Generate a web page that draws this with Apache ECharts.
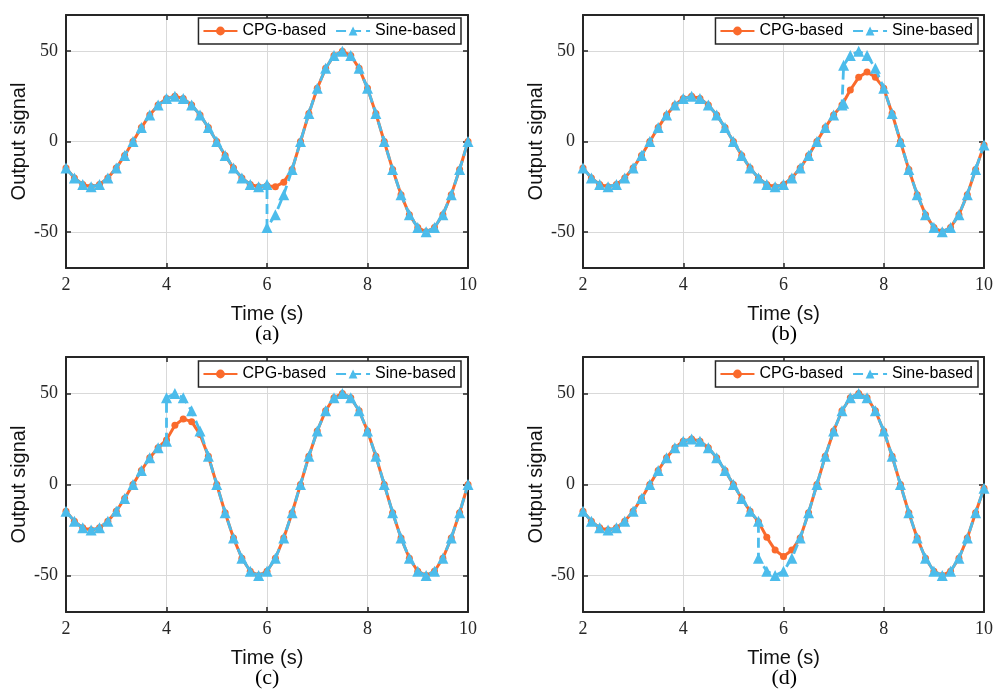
<!DOCTYPE html>
<html><head><meta charset="utf-8">
<script src="https://cdn.jsdelivr.net/npm/echarts@6/dist/echarts.min.js"></script>
<style>html,body{margin:0;padding:0;background:#fff}#c{width:1004px;height:700px}</style>
</head><body><div id="c"></div>
<script>
// ---------- data ----------
const time = [2,2.167,2.333,2.5,2.667,2.833,3,3.167,3.333,3.5,3.667,3.833,4,4.167,4.333,4.5,4.667,4.833,5,5.167,5.333,5.5,5.667,5.833,6,6.167,6.333,6.5,6.667,6.833,7,7.167,7.333,7.5,7.667,7.833,8,8.167,8.333,8.5,8.667,8.833,9,9.167,9.333,9.5,9.667,9.833,10];
const xTicks = [2,4,6,8,10];
const yTicks = [-50,0,50];
const seriesNames = ['CPG-based','Sine-based'];
const panelLabels = ['(a)','(b)','(c)','(d)'];

const sineA = [-14.7,-20.2,-23.8,-25,-23.8,-20.2,-14.7,-7.7,0,7.7,14.7,20.2,23.8,25,23.8,20.2,14.7,7.7,0,-7.7,-14.7,-20.2,-23.8,-25,
  -47.6,-40.5,-29.4,-15.5,0,15.5,29.4,40.5,47.6,50,47.6,40.5,29.4,15.5,0,-15.5,-29.4,-40.5,-47.6,-50,-47.6,-40.5,-29.4,-15.5,0];
const cpgA = [-14.7,-20.2,-23.8,-25,-23.8,-20.2,-14.7,-7.7,0,7.7,14.7,20.2,23.8,25,23.8,20.2,14.7,7.7,0,-7.7,-14.7,-20.2,-23.8,-25,
  -24.5,-25,-22.5,-15.5,0,15.5,29.4,40.5,47.6,50,47.6,40.5,29.4,15.5,0,-15.5,-29.4,-40.5,-47.6,-50,-47.6,-40.5,-29.4,-15.5,0];

const sineB = [-14.7,-20.2,-23.8,-25,-23.8,-20.2,-14.7,-7.7,0,7.7,14.7,20.2,23.8,25,23.8,20.2,14.7,7.7,0,-7.7,-14.7,-20.2,-23.8,-25,
  -23.8,-20.2,-14.7,-7.7,0,7.7,14.7,20.2,
  47.6,50,47.6,40.5,29.4,15.5,0,-15.5,-29.4,-40.5,-47.6,-50,-47.6,-40.5,-29.4,-15.5,-2];
const cpgB = [-14.7,-20.2,-23.8,-25,-23.8,-20.2,-14.7,-7.7,0,7.7,14.7,20.2,23.8,25,23.8,20.2,14.7,7.7,0,-7.7,-14.7,-20.2,-23.8,-25,
  -23.8,-20.2,-14.7,-7.7,0,7.7,14.7,20.2,
  28.5,35.5,38.5,35.5,29.5,15.5,0,-15.5,-29.4,-40.5,-47.6,-50,-47.6,-40.5,-29.4,-15.5,-2];

const sineC = [-14.7,-20.2,-23.8,-25,-23.8,-20.2,-14.7,-7.7,0,7.7,14.7,20.2,
  47.6,50,47.6,40.5,29.4,15.5,0,-15.5,-29.4,-40.5,-47.6,-50,-47.6,-40.5,-29.4,-15.5,0,15.5,29.4,40.5,47.6,50,47.6,40.5,29.4,15.5,0,-15.5,-29.4,-40.5,-47.6,-50,-47.6,-40.5,-29.4,-15.5,0];
const cpgC = [-14.7,-20.2,-23.8,-25,-23.8,-20.2,-14.7,-7.7,0,7.7,14.7,20.2,
  24.5,32.5,36,34.5,27.5,15.5,0,-15.5,-29.4,-40.5,-47.6,-50,-47.6,-40.5,-29.4,-15.5,0,15.5,29.4,40.5,47.6,50,47.6,40.5,29.4,15.5,0,-15.5,-29.4,-40.5,-47.6,-50,-47.6,-40.5,-29.4,-15.5,0];

const sineD = [-14.7,-20.2,-23.8,-25,-23.8,-20.2,-14.7,-7.7,0,7.7,14.7,20.2,23.8,25,23.8,20.2,14.7,7.7,0,-7.7,-14.7,
  -40.5,-47.6,-50,-47.6,-40.5,-29.4,-15.5,0,15.5,29.4,40.5,47.6,50,47.6,40.5,29.4,15.5,0,-15.5,-29.4,-40.5,-47.6,-50,-47.6,-40.5,-29.4,-15.5,-2];
const cpgD = [-14.7,-20.2,-23.8,-25,-23.8,-20.2,-14.7,-7.7,0,7.7,14.7,20.2,23.8,25,23.8,20.2,14.7,7.7,0,-7.7,-14.7,
  -20.5,-29,-36,-39.5,-36,-29.4,-15.5,0,15.5,29.4,40.5,47.6,50,47.6,40.5,29.4,15.5,0,-15.5,-29.4,-40.5,-47.6,-50,-47.6,-40.5,-29.4,-15.5,-2];

// amplitude switch of the sine reference (time, value before, value after)
const switchTime = [6, 7.2, 4, 5.5];
const switchFrom = [-23.8, 21.1, 23.8, -20.2];
const switchTo   = [-47.6, 42.2, 47.6, -40.5];

const cpgAll  = [cpgA, cpgB, cpgC, cpgD];
const sineAll = [sineA, sineB, sineC, sineD];

// ---------- build ----------
function pairs(vals){ return time.map((t,i)=>[t, vals[i]]); }
function sineData(vals, ts, from, to){
  const out = []; let ins = false;
  time.forEach((t,i)=>{
    if(!ins && t >= ts){ out.push([ts, from],[ts, to]); ins = true; if (t === ts) return; }
    out.push([t, vals[i]]);
  });
  return out;
}

const ORANGE = '#FA6A2C', BLUE = '#4CBCEB', AX = '#262626';
const grids = [
  {left:66, top:15, width:402, height:253},
  {left:583, top:15, width:401, height:253},
  {left:66, top:357, width:402, height:255},
  {left:583, top:357, width:401, height:255}
];
const legendPos = [{right:543, top:18},{right:26, top:18},{right:543, top:361},{right:26, top:361}];

const axLine = {show:true, onZero:false, lineStyle:{color:AX, width:2}};
const axTick = {show:true, inside:true, length:5, lineStyle:{color:AX, width:1.5}};
const split = {show:true, lineStyle:{color:'#d9d9d9', width:1}};

const xAxis = [], yAxis = [], series = [], legend = [], graphic = [];
grids.forEach((g,i)=>{
  xAxis.push({gridIndex:i, type:'value', min:2, max:10, interval:2, position:'bottom',
    axisLine:axLine, axisTick:axTick, splitLine:split,
    axisLabel:{fontFamily:'Liberation Serif', fontSize:18, color:AX, margin:8},
    name:'Time (s)', nameLocation:'middle', nameGap:36,
    nameTextStyle:{fontFamily:'Liberation Sans', fontSize:20, color:'#111'}});
  xAxis.push({gridIndex:i, type:'value', min:2, max:10, interval:2, position:'top',
    axisLine:axLine, axisTick:axTick, splitLine:{show:false}, axisLabel:{show:false}});
  yAxis.push({gridIndex:i, type:'value', min:-70, max:70, position:'left',
    axisLine:axLine, axisTick:Object.assign({customValues:yTicks}, axTick), splitLine:split,
    axisLabel:{customValues:yTicks, fontFamily:'Liberation Serif', fontSize:18, color:AX, margin:8},
    name:'Output signal', nameLocation:'middle', nameGap:37,
    nameTextStyle:{fontFamily:'Liberation Sans', fontSize:20, color:'#111'}});
  yAxis.push({gridIndex:i, type:'value', min:-70, max:70, position:'right',
    axisLine:axLine, axisTick:Object.assign({customValues:yTicks}, axTick), splitLine:{show:false},
    axisLabel:{show:false, customValues:yTicks}});
  series.push({type:'line', name:seriesNames[0], xAxisIndex:2*i, yAxisIndex:2*i,
    data:pairs(cpgAll[i]), symbol:'circle', symbolSize:7, showSymbol:true,
    lineStyle:{color:ORANGE, width:3}, itemStyle:{color:ORANGE}, z:2, animation:false});
  series.push({type:'line', name:seriesNames[1], xAxisIndex:2*i, yAxisIndex:2*i,
    data:sineData(sineAll[i], switchTime[i], switchFrom[i], switchTo[i]), symbol:'triangle', symbolSize:11, showSymbol:true,
    lineStyle:{color:BLUE, width:2.8, type:[10,5]}, itemStyle:{color:BLUE}, z:3, animation:false});
  legend.push(Object.assign({data:seriesNames, orient:'horizontal', itemWidth:34, itemHeight:11, itemGap:9,
    padding:[5,5,5,4], borderColor:AX, borderWidth:1.5, backgroundColor:'#fff', borderRadius:0,
    selectedMode:false, textStyle:{fontFamily:'Liberation Sans', fontSize:16, color:'#000'}}, legendPos[i]));
  graphic.push({type:'text', left:g.left + g.width/2 - 12, top:g.top + g.height + 55,
    style:{text:panelLabels[i], font:'22px "Liberation Serif"', fill:'#000'}});
});

const chart = echarts.init(document.getElementById('c'), null, {renderer:'canvas'});
chart.setOption({animation:false, backgroundColor:'#fff', grid:grids, xAxis, yAxis, series, legend, graphic});
</script></body></html>
